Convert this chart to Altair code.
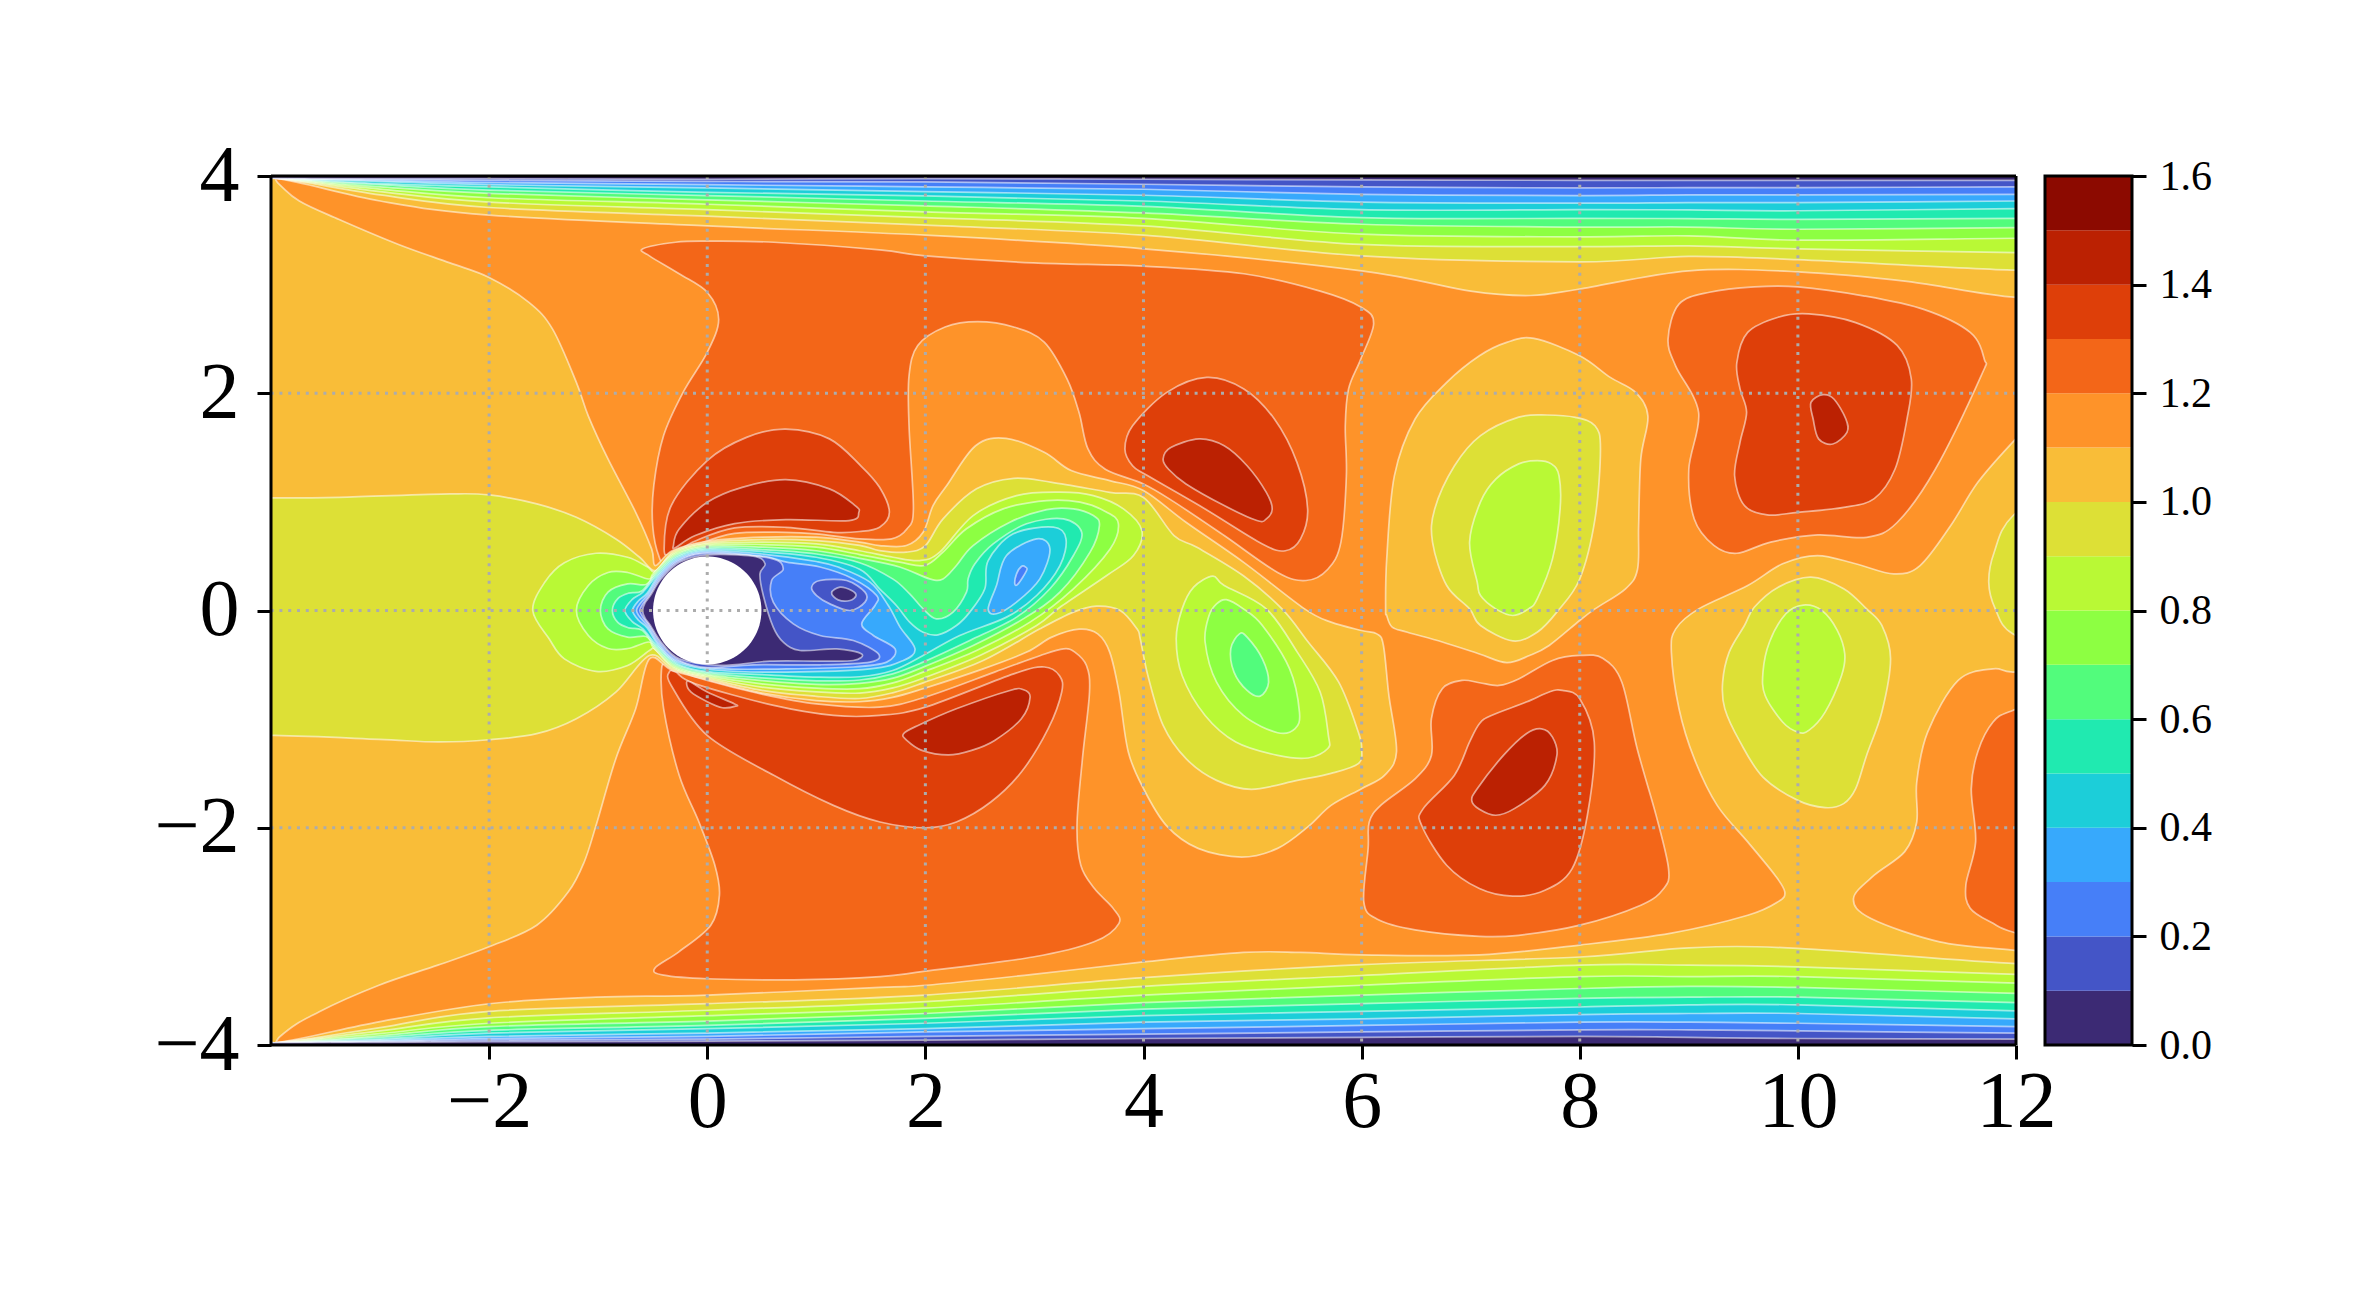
import altair as alt
import numpy as np
import pandas as pd

FONT = "Liberation Serif"

# one colour per 0.1 band, 0.0-0.1 first
BANDS = ["#3c2a74", "#4455c7", "#467ff8", "#37a9fc", "#1cced9", "#20eab0", "#52fc7c", "#8dff42",
         "#b9f935", "#dde036", "#f9bd38", "#fe9329", "#f36618", "#de3f09", "#bb2102", "#8c0a00"]
BAND_EDGES = [round(i * 0.1, 1) for i in range(17)]

GRID_X = [-2, 0, 2, 4, 6, 8, 10]
GRID_Y = [-2, 0, 2]

# wall contours: y read at these x stations
TOP_X = [-3.96, -3, -2, 0, 2, 4, 6, 8, 9, 10, 12]
TOP_01 = [3.98, 3.976, 3.975, 3.97, 3.976, 3.97, 3.964, 3.96, 3.96, 3.96, 3.96]
TOP_02 = [3.98, 3.97, 3.96, 3.95, 3.945, 3.924, 3.90, 3.89, 3.893, 3.893, 3.90]
TOP_03 = [3.98, 3.96, 3.94, 3.92, 3.90, 3.878, 3.83, 3.82, 3.826, 3.826, 3.83]
TOP_04 = [3.98, 3.95, 3.92, 3.89, 3.857, 3.823, 3.76, 3.75, 3.755, 3.755, 3.77]
TOP_05 = [3.98, 3.93, 3.90, 3.85, 3.817, 3.77, 3.69, 3.69, 3.688, 3.68, 3.70]
TOP_06 = [3.98, 3.92, 3.87, 3.82, 3.77, 3.72, 3.617, 3.61, 3.608, 3.60, 3.61]
TOP_07 = [3.98, 3.90, 3.84, 3.78, 3.725, 3.66, 3.556, 3.53, 3.53, 3.51, 3.525]
TOP_08 = [3.98, 3.88, 3.80, 3.74, 3.67, 3.61, 3.464, 3.44, 3.449, 3.41, 3.427]
TOP_09 = [3.98, 3.857, 3.76, 3.69, 3.617, 3.54, 3.37, 3.35, 3.357, 3.33, 3.295]
TOP_10 = [3.98, 3.826, 3.71, 3.63, 3.547, 3.455, 3.265, 3.21, 3.26, 3.23, 3.133]
TOP_11_X = [-3.96, -3, -2, 0, 2, 4, 6, 7, 7.55, 8, 9, 10, 11, 12]
TOP_11 = [3.98, 3.77, 3.64, 3.54, 3.455, 3.33, 3.127, 2.94, 2.90, 2.96, 3.127, 3.118, 3.03, 2.882]

BOT_X = [-3.96, -3, -2, 0, 2, 4, 6, 8, 9, 10, 12]
BOT_01 = [-3.98, -3.975, -3.97, -3.965, -3.955, -3.94, -3.93, -3.92, -3.93, -3.94, -3.945]
BOT_02 = [-3.98, -3.97, -3.955, -3.945, -3.92, -3.90, -3.88, -3.86, -3.86, -3.87, -3.89]
BOT_03 = [-3.98, -3.965, -3.94, -3.92, -3.88, -3.85, -3.82, -3.79, -3.79, -3.80, -3.83]
BOT_04 = [-3.98, -3.955, -3.92, -3.89, -3.85, -3.79, -3.76, -3.72, -3.71, -3.71, -3.76]
BOT_05 = [-3.98, -3.945, -3.89, -3.85, -3.80, -3.73, -3.69, -3.65, -3.63, -3.63, -3.685]
BOT_06 = [-3.98, -3.93, -3.865, -3.82, -3.755, -3.67, -3.62, -3.57, -3.56, -3.56, -3.61]
BOT_07 = [-3.98, -3.915, -3.83, -3.78, -3.71, -3.61, -3.54, -3.48, -3.46, -3.47, -3.525]
BOT_08 = [-3.98, -3.895, -3.80, -3.73, -3.66, -3.54, -3.45, -3.37, -3.37, -3.37, -3.43]
BOT_09 = [-3.98, -3.87, -3.75, -3.68, -3.60, -3.46, -3.36, -3.265, -3.265, -3.28, -3.35]
BOT_10 = [-3.98, -3.84, -3.69, -3.62, -3.54, -3.38, -3.26, -3.19, -3.105, -3.11, -3.25]

# 1.1 line along the bottom wall, round the finger and out through the right edge
BOT_11 = [(-3.96, -3.98), (-3, -3.785), (-2, -3.62), (-1.02, -3.56), (0, -3.54), (1.58, -3.47), (2, -3.45),
          (2.986, -3.35), (4, -3.235), (4.916, -3.148), (5.44, -3.148), (6, -3.17), (7.08, -3.17), (8, -3.08),
          (8.84, -2.97), (9.54, -2.806), (9.82, -2.68), (9.88, -2.59), (9.79, -2.437), (9.54, -2.13),
          (9.26, -1.794), (9.05, -1.364), (8.91, -0.904), (8.84, -0.383), (8.88, -0.169), (9.09, 0.015),
          (9.54, 0.23), (9.86, 0.43), (10.18, 0.506), (10.53, 0.43), (10.88, 0.337), (11.12, 0.414),
          (11.4, 0.78), (11.65, 1.18), (11.97, 1.55), (12.5, 2.1)]

# contours that wrap the cylinder and its wake
WAKE_01 = [(-0.593, 0), (-0.57, 0.07), (-0.52, 0.14), (-0.42, 0.294), (-0.256, 0.444), (0, 0.5125), (0.42, 0.50),
           (0.53, 0.43), (0.483, 0.337), (0.514, 0.138), (0.605, -0.153), (0.697, -0.291), (0.85, -0.368),
           (1.187, -0.353), (1.416, -0.40), (1.34, -0.46), (1.034, -0.466), (0.575, -0.466), (0.116, -0.505),
           (-0.256, -0.444), (-0.42, -0.294), (-0.52, -0.14), (-0.57, -0.07)]
WAKE_02 = [(-0.618, 0), (-0.59, 0.06), (-0.53, 0.14), (-0.43, 0.30), (-0.2625, 0.455), (0, 0.525), (0.575, 0.482),
           (0.697, 0.383), (0.59, 0.276), (0.605, 0.077), (0.789, -0.123), (1.034, -0.23), (1.339, -0.276),
           (1.569, -0.399), (1.492, -0.475), (1.034, -0.50), (0.422, -0.50), (0, -0.525), (-0.2625, -0.455),
           (-0.43, -0.30), (-0.53, -0.14), (-0.59, -0.06)]
WAKE_03 = [(-0.648, 0), (-0.61, 0.07), (-0.54, 0.15), (-0.44, 0.308), (-0.269, 0.465), (0, 0.5375), (0.5, 0.50),
           (0.728, 0.445), (1.034, 0.40), (1.339, 0.291), (1.553, 0.138), (1.538, 0.046), (1.416, -0.123),
           (1.523, -0.23), (1.722, -0.353), (1.645, -0.475), (1.339, -0.52), (0.728, -0.537), (0.116, -0.535),
           (-0.269, -0.465), (-0.44, -0.308), (-0.54, -0.15), (-0.61, -0.07)]
WAKE_04 = [(-0.685, 0), (-0.63, 0.09), (-0.55, 0.16), (-0.45, 0.316), (-0.275, 0.476), (0, 0.55), (0.5, 0.52),
           (1, 0.451), (1.2, 0.40), (1.492, 0.261), (1.66, 0.046), (1.768, -0.153), (1.905, -0.353), (1.798, -0.46),
           (1.492, -0.537), (0.728, -0.567), (0.1, -0.55), (-0.275, -0.476), (-0.45, -0.316), (-0.55, -0.16),
           (-0.63, -0.09)]
WAKE_05 = [(-0.755, 0), (-0.69, 0.1), (-0.59, 0.17), (-0.46, 0.323), (-0.281, 0.487), (0, 0.5625), (0.5, 0.543),
           (1, 0.49), (1.397, 0.38), (1.58, 0.2), (1.734, 0.046), (1.856, -0.107), (1.979, -0.2), (2.116, -0.224),
           (2.285, -0.138), (2.407, -0.015), (2.545, 0.2), (2.576, 0.46), (2.806, 0.706), (3.173, 0.767),
           (3.289, 0.66), (3.234, 0.414), (3.02, 0.138), (2.744, -0.061), (2.315, -0.23), (1.979, -0.414),
           (1.70, -0.552), (1.397, -0.61), (1, -0.613), (0.5, -0.59), (0, -0.5625), (-0.281, -0.487),
           (-0.46, -0.323), (-0.59, -0.17), (-0.69, -0.1)]
WAKE_06 = [(-0.87, 0), (-0.82, 0.11), (-0.72, 0.16), (-0.6, 0.18), (-0.471, 0.33), (-0.2875, 0.498), (0, 0.575),
           (0.5, 0.56), (1, 0.52), (1.397, 0.44), (1.70, 0.291), (1.856, 0.153), (1.979, 0.015), (2.10, -0.077),
           (2.254, -0.015), (2.377, 0.169), (2.392, 0.291), (2.453, 0.429), (2.622, 0.613), (2.928, 0.798),
           (3.265, 0.844), (3.433, 0.72), (3.357, 0.506), (3.142, 0.2), (2.836, -0.061), (2.407, -0.276),
           (1.979, -0.475), (1.70, -0.583), (1.397, -0.64), (1, -0.647), (0.5, -0.62), (0, -0.575),
           (-0.2875, -0.498), (-0.471, -0.33), (-0.6, -0.18), (-0.72, -0.16), (-0.82, -0.11)]
WAKE_07 = [(-0.98, 0), (-0.91, 0.17), (-0.73, 0.245), (-0.56, 0.24), (-0.481, 0.337), (-0.294, 0.509), (0, 0.5875),
           (0.5, 0.583), (1, 0.55), (1.397, 0.48), (1.764, 0.40), (2.04, 0.291), (2.162, 0.291), (2.285, 0.414),
           (2.438, 0.598), (2.775, 0.813), (3.112, 0.929), (3.357, 0.936), (3.54, 0.874), (3.596, 0.782),
           (3.51, 0.537), (3.234, 0.169), (2.897, -0.077), (2.438, -0.322), (1.979, -0.521), (1.703, -0.623),
           (1.397, -0.67), (1, -0.68), (0.5, -0.645), (0, -0.5875), (-0.294, -0.509), (-0.481, -0.337),
           (-0.56, -0.24), (-0.73, -0.245), (-0.91, -0.17)]
WAKE_08 = [(-1.2, 0), (-1.09, 0.23), (-0.91, 0.35), (-0.73, 0.35), (-0.54, 0.29), (-0.491, 0.344), (-0.30, 0.52),
           (0, 0.60), (0.5, 0.607), (1, 0.583), (1.397, 0.515), (1.764, 0.445), (1.994, 0.414), (2.162, 0.537),
           (2.377, 0.752), (2.714, 0.936), (3.112, 1.012), (3.418, 0.997), (3.663, 0.905), (3.77, 0.798),
           (3.694, 0.567), (3.357, 0.2), (2.959, -0.107), (2.469, -0.368), (1.979, -0.567), (1.703, -0.666),
           (1.397, -0.72), (1, -0.715), (0.5, -0.675), (0, -0.60), (-0.30, -0.52), (-0.491, -0.344),
           (-0.54, -0.29), (-0.73, -0.35), (-0.91, -0.35), (-1.09, -0.23)]
WAKE_09 = [(-1.6, 0), (-1.49, 0.26), (-1.31, 0.44), (-1.02, 0.527), (-0.73, 0.49), (-0.547, 0.40), (-0.475, 0.36),
           (-0.306, 0.53), (0, 0.6125), (0.5, 0.63), (1, 0.614), (1.397, 0.55), (1.703, 0.49), (1.948, 0.46),
           (2.132, 0.537), (2.438, 0.874), (2.836, 1.058), (3.234, 1.089), (3.54, 1.058), (3.816, 0.936),
           (3.985, 0.736), (3.908, 0.506), (3.663, 0.322), (3.234, 0.03), (3.02, -0.138), (2.50, -0.414),
           (1.979, -0.623), (1.703, -0.712), (1.397, -0.76), (1, -0.75), (0.5, -0.705), (0, -0.6125),
           (-0.306, -0.53), (-0.475, -0.36), (-0.53, -0.368), (-0.73, -0.506), (-1.02, -0.56), (-1.31, -0.445),
           (-1.45, -0.26)]
WAKE_10 = [(-5, 1.04), (-3.97, 1.036), (-3.375, 1.042), (-2.36, 1.073), (-2, 1.064), (-1.563, 0.981), (-1.2, 0.858),
           (-0.838, 0.659), (-0.62, 0.49), (-0.475, 0.368), (-0.3125, 0.541), (0, 0.625), (0.5, 0.653), (1, 0.644),
           (1.397, 0.60), (1.58, 0.552), (1.825, 0.537), (2, 0.598), (2.162, 0.844), (2.469, 1.12), (2.81, 1.217),
           (3.16, 1.18), (3.69, 1.088), (4, 1.04), (4.28, 0.69), (4.49, 0.582), (4.916, 0.32), (5.27, 0.015),
           (5.51, -0.29), (5.79, -0.66), (5.97, -1.12), (6, -1.27), (5.97, -1.41), (5.72, -1.50), (5.41, -1.564),
           (4.99, -1.646), (4.67, -1.564), (4.39, -1.364), (4.18, -1.058), (4.04, -0.598), (3.97, -0.26),
           (3.94, -0.169), (3.786, 0), (3.57, 0.04), (3.357, -0.015), (3.05, -0.169), (2.53, -0.46), (1.98, -0.666),
           (1.70, -0.758), (1.397, -0.81), (1, -0.79), (0.5, -0.735), (0, -0.625), (-0.3125, -0.541),
           (-0.53, -0.414), (-0.838, -0.751), (-1.2, -0.996), (-1.563, -1.134), (-2, -1.19), (-2.47, -1.21),
           (-3.01, -1.186), (-3.97, -1.15), (-5, -1.15)]
WAKE_11 = [(-4.5, 4.5), (-3.94, 3.94), (-3.74, 3.77), (-3.375, 3.60), (-2.83, 3.37), (-2.36, 3.20), (-2, 3.066),
           (-1.635, 2.836), (-1.418, 2.59), (-1.2, 2.10), (-1.09, 1.79), (-0.91, 1.395), (-0.656, 0.904),
           (-0.51, 0.567), (-0.475, 0.414), (-0.319, 0.552), (0, 0.6375), (0.5, 0.675), (1, 0.675), (1.397, 0.63),
           (1.58, 0.598), (1.825, 0.598), (1.979, 0.72), (2.07, 0.966), (2.196, 1.15), (2.46, 1.517), (2.74, 1.585),
           (3.09, 1.456), (3.337, 1.288), (3.69, 1.196), (4, 1.104), (4.39, 0.812), (4.916, 0.445), (5.477, 0.015),
           (5.72, -0.107), (6, -0.184), (6.14, -0.215), (6.2, -0.322), (6.25, -0.782), (6.32, -1.30), (6.21, -1.518),
           (6, -1.64), (5.72, -1.794), (5.51, -1.99), (5.23, -2.19), (4.9, -2.27), (4.5, -2.19), (4.21, -1.98),
           (4, -1.64), (3.86, -1.30), (3.775, -0.75), (3.69, -0.383), (3.58, -0.215), (3.41, -0.172), (3.16, -0.245),
           (2.93, -0.383), (2.53, -0.537), (1.98, -0.72), (1.70, -0.80), (1.397, -0.84), (1, -0.83), (0.5, -0.76),
           (0, -0.6375), (-0.319, -0.552), (-0.53, -0.445), (-0.656, -0.904), (-0.838, -1.364), (-1.019, -1.977),
           (-1.128, -2.315), (-1.273, -2.59), (-1.563, -2.897), (-2, -3.096), (-2.47, -3.265), (-3.01, -3.45),
           (-3.557, -3.694), (-3.92, -3.924), (-4.5, -4.5)]

# closed loops inside the wake
WAKE_ISLE_02 = [(0.957, 0.215), (1.034, 0.276), (1.278, 0.276), (1.446, 0.169), (1.446, 0.077), (1.309, 0),
                (1.125, 0.061), (1.003, 0.138)]
WAKE_ISLE_01 = [(1.14, 0.163), (1.217, 0.215), (1.324, 0.184), (1.364, 0.138), (1.309, 0.092), (1.20, 0.098)]
BLOB_04 = [(2.576, 0.015), (2.652, -0.03), (2.836, 0.077), (3.05, 0.291), (3.142, 0.567), (3.02, 0.66),
           (2.744, 0.506), (2.652, 0.23)]
BLOB_03 = [(2.82, 0.245), (2.85, 0.245), (2.928, 0.368), (2.919, 0.40), (2.88, 0.405), (2.836, 0.337)]

# low islands downstream
ISLE_A_09 = [(4.30, -0.26), (4.354, -0.598), (4.565, -0.966), (4.846, -1.21), (5.23, -1.334), (5.51, -1.358),
             (5.69, -1.27), (5.695, -1.15), (5.62, -0.75), (5.41, -0.383), (5.126, 0.015), (4.74, 0.23),
             (4.635, 0.316), (4.46, 0.215), (4.354, 0.015)]
ISLE_A_08 = [(4.565, -0.29), (4.67, -0.66), (4.916, -0.966), (5.23, -1.125), (5.39, -1.088), (5.43, -0.935),
             (5.34, -0.537), (5.09, -0.138), (4.916, 0.015), (4.76, 0.10), (4.67, 0.06), (4.6, -0.05)]
ISLE_A_07 = [(4.88, -0.215), (4.95, -0.245), (5.09, -0.445), (5.147, -0.66), (5.07, -0.788), (4.95, -0.736),
             (4.83, -0.567), (4.80, -0.353)]
ISLE_B_11 = [(7.58, 2.505), (8, 2.345), (8.28, 2.146), (8.51, 2.01), (8.625, 1.79), (8.56, 1.395), (8.54, 0.78),
             (8.53, 0.38), (8.42, 0.2), (8.14, 0.015), (8, -0.092), (7.72, -0.322), (7.54, -0.414), (7.33, -0.48),
             (7.08, -0.40), (6.74, -0.29), (6.42, -0.2), (6.28, -0.153), (6.23, -0.046), (6.22, 0.015), (6.23, 0.475),
             (6.30, 1.24), (6.49, 1.763), (6.78, 2.10), (7.08, 2.345), (7.33, 2.468)]
ISLE_B_10 = [(7.70, 1.80), (7.44, 1.78), (7.09, 1.61), (6.85, 1.33), (6.67, 0.935), (6.65, 0.63), (6.78, 0.23),
             (6.99, 0.015), (7.09, -0.138), (7.386, -0.28), (7.61, -0.2), (7.79, -0.015), (8, 0.29), (8.14, 0.843),
             (8.19, 1.487), (8.14, 1.70), (7.96, 1.778)]
ISLE_B_09 = [(7.61, 1.38), (7.44, 1.35), (7.23, 1.21), (7.09, 1.0), (6.99, 0.63), (7.06, 0.26), (7.09, 0.138),
             (7.23, 0.015), (7.386, -0.046), (7.53, 0.015), (7.61, 0.107), (7.75, 0.475), (7.82, 0.935), (7.81, 1.24),
             (7.74, 1.35)]
ISLE_C_10 = [(9.6, 0.03), (9.82, 0.215), (10.12, 0.307), (10.42, 0.2), (10.63, 0.015), (10.77, -0.138), (10.85, -0.445),
             (10.77, -0.935), (10.63, -1.334), (10.53, -1.64), (10.42, -1.778), (10.25, -1.815), (10, -1.748),
             (9.68, -1.534), (9.47, -1.21), (9.33, -0.904), (9.31, -0.66), (9.37, -0.383), (9.51, -0.138)]
ISLE_C_09 = [(10.05, 0.05), (10.22, 0), (10.36, -0.18), (10.43, -0.4), (10.4, -0.6), (10.25, -0.935), (10.1, -1.104),
             (10, -1.12), (9.86, -1.027), (9.7, -0.782), (9.68, -0.567), (9.74, -0.29), (9.89, -0.03)]
EDGE_10 = [(11.97, 0.87), (11.8, 0.537), (11.75, 0.26), (11.81, 0.015), (11.97, -0.215), (12.5, -0.4), (13, -0.4),
           (13, 1), (12.5, 1.2)]

# high regions
HIGH_TOP_12 = [(-0.59, 3.33), (-0.29, 3.39), (0, 3.40), (0.61, 3.39), (1.58, 3.32), (2, 3.265), (2.99, 3.20), (4, 3.17),
               (4.92, 3.10), (5.62, 2.94), (6.0, 2.79), (6.11, 2.64), (5.99, 2.31), (5.88, 2.04), (5.85, 1.70),
               (5.86, 1.24), (5.81, 0.63), (5.69, 0.38), (5.49, 0.276), (5.23, 0.35), (4.74, 0.69), (4.28, 1.0),
               (4, 1.165), (3.65, 1.30), (3.49, 1.49), (3.41, 1.82), (3.30, 2.13), (3.09, 2.47), (2.81, 2.61),
               (2.48, 2.66), (2.18, 2.61), (1.93, 2.44), (1.85, 2.16), (1.85, 1.70), (1.89, 0.935), (1.83, 0.75),
               (1.69, 0.66), (1.397, 0.66), (1, 0.706), (0.72, 0.72), (0.25, 0.71), (-0.11, 0.60), (-0.38, 0.47),
               (-0.44, 0.49), (-0.5, 0.78), (-0.49, 1.15), (-0.40, 1.61), (-0.22, 2.01), (0, 2.376), (0.105, 2.68),
               (0, 2.93), (-0.257, 3.10), (-0.53, 3.265)]
HIGH_TOP_13 = [(-0.395, 0.567), (-0.33, 0.966), (0, 1.38), (0.36, 1.594), (0.72, 1.67), (1.12, 1.58), (1.41, 1.33),
               (1.58, 1.134), (1.67, 0.905), (1.58, 0.767), (1.397, 0.727), (1.157, 0.72), (0.72, 0.766), (0.25, 0.76),
               (-0.11, 0.64), (-0.33, 0.52)]
HIGH_TOP_14 = [(-0.31, 0.598), (-0.257, 0.75), (0, 0.996), (0.32, 1.134), (0.72, 1.205), (1.12, 1.12), (1.356, 0.966),
               (1.39, 0.904), (1.30, 0.828), (0.72, 0.837), (0.25, 0.80), (-0.11, 0.69), (-0.29, 0.58)]
HIGH_B_13 = [(3.83, 1.487), (3.9, 1.70), (4.214, 2.008), (4.58, 2.146), (4.92, 2.04), (5.2, 1.763), (5.407, 1.364),
             (5.505, 0.935), (5.44, 0.659), (5.3, 0.55), (5.09, 0.613), (4.565, 0.935), (4.04, 1.24), (3.9, 1.333)]
HIGH_B_14 = [(4.18, 1.395), (4.25, 1.50), (4.51, 1.58), (4.74, 1.517), (4.95, 1.333), (5.126, 1.088), (5.18, 0.935),
             (5.126, 0.843), (5.04, 0.828), (4.74, 0.966), (4.39, 1.165), (4.23, 1.30)]
HIGH_C_12 = [(9.19, 2.93), (8.91, 2.82), (8.81, 2.50), (8.88, 2.25), (9.09, 1.824), (9, 1.30), (9.05, 0.843), (9.23, 0.60),
             (9.44, 0.527), (9.75, 0.63), (10.18, 0.696), (10.63, 0.674), (10.91, 0.81), (11.26, 1.30), (11.68, 2.16),
             (11.71, 2.31), (11.58, 2.56), (11.16, 2.77), (10.6, 2.897), (10, 2.98), (9.6, 2.98)]
HIGH_C_13 = [(9.44, 2.28), (9.54, 2.56), (9.82, 2.70), (10.1, 2.73), (10.53, 2.65), (10.91, 2.44), (11.04, 2.13), (11, 1.76),
             (10.89, 1.30), (10.7, 1.03), (10.42, 0.95), (10, 0.904), (9.72, 0.88), (9.51, 0.966), (9.42, 1.24),
             (9.47, 1.55), (9.53, 1.824), (9.47, 2.04)]
HIGH_C_14 = [(10.23, 1.987), (10.33, 1.947), (10.44, 1.763), (10.45, 1.64), (10.32, 1.533), (10.19, 1.58), (10.14, 1.763),
             (10.12, 1.916)]
HIGH_LOW_12 = [(-0.482, -3.295), (-0.40, -3.357), (0, -3.39), (0.794, -3.40), (1.585, -3.37), (2, -3.32), (2.986, -3.19),
               (3.547, -3.05), (3.775, -2.88), (3.72, -2.74), (3.55, -2.56), (3.425, -2.345), (3.39, -1.977),
               (3.44, -1.364), (3.505, -0.75), (3.477, -0.506), (3.37, -0.383), (3.267, -0.353), (3.056, -0.414),
               (2.635, -0.567), (2, -0.797), (1.58, -0.89), (1, -0.86), (0.5, -0.77), (0, -0.644), (-0.2, -0.58),
               (-0.37, -0.49), (-0.42, -0.55), (-0.40, -0.904), (-0.257, -1.517), (-0.076, -1.947), (0.07, -2.345),
               (0.112, -2.62), (0.033, -2.897), (-0.257, -3.14)]
HIGH_LOW_13 = [(-0.348, -0.567), (-0.33, -0.69), (0, -1.15), (0.61, -1.517), (1.157, -1.794), (1.585, -1.947), (2, -2.0),
               (2.284, -1.947), (2.6, -1.763), (2.88, -1.487), (3.126, -1.088), (3.25, -0.75), (3.23, -0.6), (3.09, -0.52),
               (2.81, -0.583), (2, -0.89), (1.58, -0.966), (1.157, -0.966), (0.61, -0.874), (-0.11, -0.675),
               (-0.29, -0.567)]
HIGH_LOW_14A = [(-0.19, -0.665), (-0.15, -0.66), (0, -0.75), (0.25, -0.86), (0.26, -0.88), (0.14, -0.895), (0, -0.84),
                (-0.15, -0.75)]
HIGH_LOW_14B = [(1.8, -1.134), (1.933, -1.058), (2.284, -0.905), (2.775, -0.736), (2.9, -0.73), (2.96, -0.797),
                (2.88, -0.996), (2.635, -1.196), (2.424, -1.288), (2.21, -1.33), (1.968, -1.288), (1.83, -1.196)]
HIGH_D_12 = [(8, -0.414), (8.21, -0.44), (8.386, -0.66), (8.526, -1.27), (8.70, -1.886), (8.814, -2.376), (8.77, -2.56),
             (8.56, -2.713), (8, -2.897), (7.44, -2.99), (7.08, -3.0), (6.49, -2.94), (6.14, -2.84), (6.02, -2.68),
             (6.06, -2.19), (6.07, -1.947), (6.18, -1.79), (6.49, -1.55), (6.64, -1.334), (6.64, -0.996), (6.74, -0.72),
             (6.92, -0.644), (7.08, -0.665), (7.26, -0.69), (7.44, -0.63), (7.75, -0.46)]
HIGH_D_13 = [(7.84, -0.736), (8, -0.813), (8.133, -1.21), (8.07, -1.885), (7.93, -2.376), (7.68, -2.576), (7.386, -2.63),
             (7.08, -2.56), (6.78, -2.345), (6.55, -1.977), (6.565, -1.824), (6.85, -1.518), (6.99, -1.21), (7.08, -1.042),
             (7.19, -0.966), (7.51, -0.843), (7.72, -0.75)]
HIGH_D_14 = [(7.65, -1.089), (7.75, -1.165), (7.79, -1.334), (7.68, -1.61), (7.40, -1.824), (7.23, -1.885), (7.08, -1.83),
             (7.01, -1.75), (7.06, -1.64), (7.3, -1.334), (7.51, -1.134)]

# orange tongues coming in through the right edge
TONGUE_11 = [(11.97, -0.567), (11.79, -0.537), (11.47, -0.644), (11.19, -1.12), (11.09, -1.58), (11.09, -1.947),
             (10.98, -2.22), (10.7, -2.437), (10.51, -2.652), (10.67, -2.836), (11.3, -3.05), (11.97, -3.127),
             (12.5, -3.2), (13, -3.2), (13, -0.5), (12.5, -0.56)]
TONGUE_12 = [(11.97, -0.92), (11.79, -1.027), (11.65, -1.30), (11.59, -1.64), (11.63, -2.13), (11.54, -2.53), (11.58, -2.74),
             (11.79, -2.88), (11.97, -2.96), (12.5, -3.1), (13, -3), (13, -0.8), (12.5, -0.75)]

BACKDROP = [(-6, -6), (-6, 6), (14, 6), (14, -6)]


def top_strip(xs, ys):
    return [(-4.5, ys[0])] + list(zip(xs, ys)) + [(13, ys[-1]), (14, ys[-1]), (14, 5), (-4.5, 5)]


def bottom_strip(xs, ys):
    return [(-4.5, ys[0])] + list(zip(xs, ys)) + [(13, ys[-1]), (14, ys[-1]), (14, -5), (-4.5, -5)]


# painted in this order, each loop with the band index of its inside
paint = [
    (BACKDROP, 11),
    (HIGH_TOP_12, 12), (HIGH_TOP_13, 13), (HIGH_TOP_14, 14),
    (HIGH_B_13, 13), (HIGH_B_14, 14),
    (HIGH_C_12, 12), (HIGH_C_13, 13), (HIGH_C_14, 14),
    (HIGH_LOW_12, 12), (HIGH_LOW_13, 13), (HIGH_LOW_14A, 14), (HIGH_LOW_14B, 14),
    (HIGH_D_12, 12), (HIGH_D_13, 13), (HIGH_D_14, 14),
    (WAKE_11, 10), (WAKE_10, 9), (WAKE_09, 8), (WAKE_08, 7), (WAKE_07, 6), (WAKE_06, 5), (WAKE_05, 4), (WAKE_04, 3),
    (BLOB_04, 3), (BLOB_03, 2), (WAKE_03, 2), (WAKE_ISLE_02, 1), (WAKE_ISLE_01, 0), (WAKE_02, 1), (WAKE_01, 0),
    (ISLE_A_09, 8), (ISLE_A_08, 7), (ISLE_A_07, 6),
    (ISLE_B_11, 10), (ISLE_B_10, 9), (ISLE_B_09, 8),
    (top_strip(TOP_11_X, TOP_11), 10),
    (BOT_11 + [(14, 3.3), (14, -5), (-4.5, -5), (-4.5, -3.98)], 10),
    (ISLE_C_10, 9), (ISLE_C_09, 8), (EDGE_10, 9),
    (TONGUE_11, 11), (TONGUE_12, 12),
]
for band, ys in zip(range(9, -1, -1), [TOP_10, TOP_09, TOP_08, TOP_07, TOP_06, TOP_05, TOP_04, TOP_03, TOP_02, TOP_01]):
    paint.append((top_strip(TOP_X, ys), band))
for band, ys in zip(range(9, -1, -1), [BOT_10, BOT_09, BOT_08, BOT_07, BOT_06, BOT_05, BOT_04, BOT_03, BOT_02, BOT_01]):
    paint.append((bottom_strip(BOT_X, ys), band))

rows = []
for loop_id, (loop, band) in enumerate(paint):
    for pt, (px, py) in enumerate(loop):
        rows.append({"x": px, "y": py, "pt": pt, "loop": f"{loop_id:03d}", "fill": BANDS[band]})
contours = pd.DataFrame(rows)

x_scale = alt.Scale(domain=[-4, 12], nice=False, zero=False)
y_scale = alt.Scale(domain=[-4, 4], nice=False, zero=False)
x_axis = alt.Axis(values=[-2, 0, 2, 4, 6, 8, 10, 12], format="d", title=None, domain=False, grid=False,
                  tickSize=14, tickWidth=3, tickColor="black", labelFont=FONT, labelFontSize=80, labelColor="black",
                  labelPadding=4, labelFlush=False, labelOverlap=False)
y_axis = alt.Axis(values=[-4, -2, 0, 2, 4], format="d", title=None, domain=False, grid=False,
                  tickSize=14, tickWidth=3, tickColor="black", labelFont=FONT, labelFontSize=80, labelColor="black",
                  labelPadding=18, labelFlush=False, labelOverlap=False)

filled = alt.Chart(contours).mark_line(
    interpolate="cardinal-closed", tension=0, stroke="white", strokeOpacity=0.55, strokeWidth=1.7, clip=True
).encode(
    x=alt.X("x:Q", scale=x_scale, axis=x_axis),
    y=alt.Y("y:Q", scale=y_scale, axis=y_axis),
    order="pt:Q",
    detail="loop:N",
    fill=alt.Fill("fill:N", scale=None),
)

# cylinder
angles = np.linspace(0, 2 * np.pi, 90, endpoint=False)
cylinder = alt.Chart(pd.DataFrame({"x": 0.497 * np.cos(angles), "y": 0.497 * np.sin(angles), "pt": np.arange(90)})).mark_line(
    interpolate="linear-closed", fill="white", strokeWidth=0
).encode(x=alt.X("x:Q", scale=x_scale), y=alt.Y("y:Q", scale=y_scale), order="pt:Q")

grid_x = alt.Chart(pd.DataFrame({"x": GRID_X})).mark_rule(color="#acacac", size=3, strokeDash=[3, 5.8]).encode(x=alt.X("x:Q", scale=x_scale))
grid_y = alt.Chart(pd.DataFrame({"y": GRID_Y})).mark_rule(color="#acacac", size=3, strokeDash=[3, 5.8]).encode(y=alt.Y("y:Q", scale=y_scale))
frame_x = alt.Chart(pd.DataFrame({"x": [-4, 12]})).mark_rule(color="black", size=3).encode(x=alt.X("x:Q", scale=x_scale))
frame_y = alt.Chart(pd.DataFrame({"y": [-4, 4]})).mark_rule(color="black", size=3).encode(y=alt.Y("y:Q", scale=y_scale))

main = alt.layer(filled, cylinder, grid_x, grid_y, frame_x, frame_y).properties(width=1745, height=869)

bar_data = pd.DataFrame({"low": BAND_EDGES[:-1], "high": BAND_EDGES[1:], "fill": BANDS})
bar_scale = alt.Scale(domain=[0, 1.6], nice=False, zero=False)
bar = alt.Chart(bar_data).mark_rect().encode(
    y=alt.Y("low:Q", scale=bar_scale, axis=alt.Axis(
        orient="right", values=[0, 0.2, 0.4, 0.6, 0.8, 1.0, 1.2, 1.4, 1.6], format=".1f", title=None, domain=False,
        grid=False, tickSize=14, tickWidth=3, tickColor="black", labelFont=FONT, labelFontSize=42, labelColor="black",
        labelPadding=13, labelFlush=False, labelOverlap=False)),
    y2="high:Q",
    fill=alt.Fill("fill:N", scale=None),
)
bar_frame = alt.Chart(pd.DataFrame({"low": [0], "high": [1.6]})).mark_rect(
    fill="transparent", stroke="black", strokeWidth=3
).encode(y=alt.Y("low:Q", scale=bar_scale), y2="high:Q")
colorbar = alt.layer(bar, bar_frame).properties(width=87, height=869)

chart = alt.hconcat(main, colorbar, spacing=29, bounds="flush",
                    padding={"left": 145, "top": 128, "right": 10, "bottom": 10}).configure_view(stroke=None)
chart.save("out.html", embed_options={"renderer": "svg", "actions": False})
